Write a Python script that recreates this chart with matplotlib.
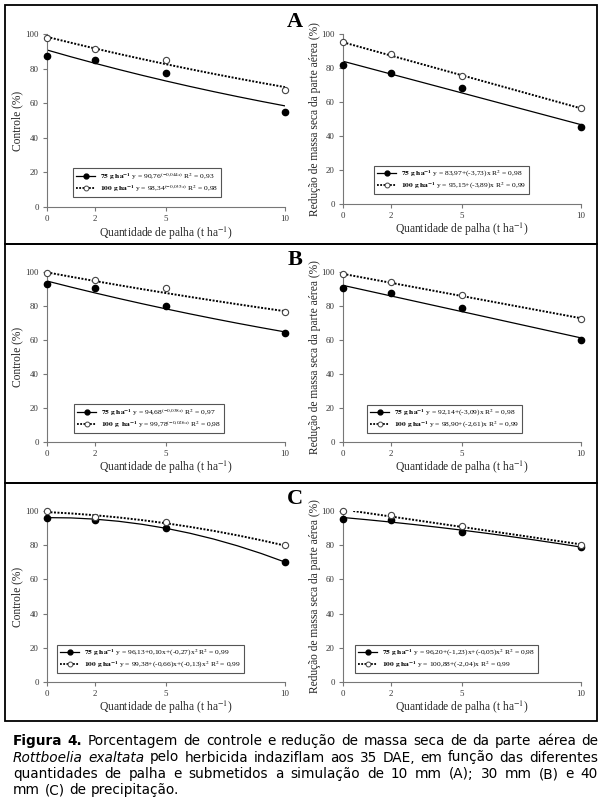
import matplotlib
matplotlib.use('Agg')
import matplotlib.pyplot as plt
from matplotlib.lines import Line2D
from matplotlib.patches import Rectangle

plt.rcParams['font.family'] = ['Liberation Serif', 'DejaVu Serif']
plt.rcParams['mathtext.fontset'] = 'stix'

W, H = 608, 801

# palha (t/ha) where the observations were made
x_palha = [0, 2, 5, 10]
x_fit = [0, 1, 2, 3, 4, 5, 6, 7, 8, 9, 10]
x_lin = [0, 10]

# A - 10 mm
a_ctrl_75 = [87.4, 85.1, 77.6, 55.2]
a_ctrl_100 = [97.5, 91.1, 85.1, 67.8]
a_ctrl_75_fit = [90.76, 86.85, 83.12, 79.54, 76.11, 72.84, 69.70, 66.70, 63.83, 61.08, 58.45]
a_ctrl_100_fit = [98.34, 94.96, 91.69, 88.54, 85.50, 82.55, 79.71, 76.97, 74.33, 71.77, 69.30]
a_mass_75 = [81.8, 77.3, 68.4, 45.3]
a_mass_100 = [95.1, 88.2, 75.3, 56.7]
a_mass_75_fit = [83.97, 46.67]
a_mass_100_fit = [95.15, 56.25]

# B - 30 mm
b_ctrl_75 = [93.1, 90.4, 80.2, 63.9]
b_ctrl_100 = [99.4, 95.3, 90.4, 76.7]
b_ctrl_75_fit = [94.68, 91.15, 87.75, 84.48, 81.33, 78.30, 75.38, 72.57, 69.86, 67.26, 64.75]
b_ctrl_100_fit = [99.78, 97.22, 94.73, 92.29, 89.92, 87.62, 85.37, 83.18, 81.04, 78.96, 76.94]
b_mass_75 = [90.4, 87.6, 78.6, 60.2]
b_mass_100 = [99.0, 93.9, 86.7, 72.5]
b_mass_75_fit = [92.14, 61.24]
b_mass_100_fit = [98.90, 72.80]

# C - 40 mm
c_ctrl_75 = [96.1, 94.5, 90.1, 70.2]
c_ctrl_100 = [99.8, 96.5, 93.6, 80.1]
c_ctrl_75_fit = [96.13, 95.96, 95.25, 94.00, 92.21, 89.88, 87.01, 83.60, 79.65, 75.16, 70.13]
c_ctrl_100_fit = [99.38, 98.59, 97.54, 96.23, 94.66, 92.83, 90.74, 88.39, 85.78, 82.91, 79.78]
c_mass_75 = [95.5, 94.5, 87.7, 78.8]
c_mass_100 = [99.8, 97.5, 91.0, 79.9]
c_mass_75_fit = [96.20, 94.92, 93.54, 92.06, 90.48, 88.80, 87.02, 85.14, 83.16, 81.08, 78.90]
c_mass_100_x = [0.43, 10]
c_mass_100_fit = [100.0, 80.48]

lab75 = r'$\mathbf{75\ g\ ha^{-1}}$ '
lab100 = r'$\mathbf{100\ g\ ha^{-1}}$ '
a_ctrl_leg = [lab75 + 'y = 90,76$^{(-0{,}044x)}$ R$^{2}$ = 0,93',
              lab100 + 'y = 98,34$^{(-0{,}035x)}$ R$^{2}$ = 0,98']
a_mass_leg = [lab75 + 'y = 83,97+(-3,73)x R$^{2}$ = 0,98',
              lab100 + 'y = 95,15+(-3,89)x R$^{2}$ = 0,99']
b_ctrl_leg = [lab75 + 'y = 94,68$^{(-0{,}038x)}$ R$^{2}$ = 0,97',
              r'$\mathbf{100\ g\ \ ha^{-1}}$ ' + 'y = 99,78$^{(-0{,}026x)}$ R$^{2}$ = 0,98']
b_mass_leg = [lab75 + 'y = 92,14+(-3,09)x R$^{2}$ = 0,98',
              lab100 + 'y = 98,90+(-2,61)x R$^{2}$ = 0,99']
c_ctrl_leg = [lab75 + 'y = 96,13+0,10x+(-0,27)x$^{2}$ R$^{2}$ = 0,99',
              lab100 + 'y = 99,38+(-0,66)x+(-0,13)x$^{2}$ R$^{2}$ = 0,99']
c_mass_leg = [lab75 + 'y = 96,20+(-1,23)x+(-0,05)x$^{2}$ R$^{2}$ = 0,98',
              lab100 + 'y = 100,88+(-2,04)x R$^{2}$ = 0,99']

ylab_ctrl = 'Controle (%)'
ylab_mass = 'Redução de massa seca da parte aérea (%)'
xlab = 'Quantidade de palha (t ha$^{-1}$)'

caption = [
    'Figura 4. Porcentagem de controle e redução de massa seca de da parte aérea de',
    'Rottboelia exaltata pelo herbicida indaziflam aos 35 DAE, em função das diferentes',
    'quantidades de palha e submetidos a simulação de 10 mm (A); 30 mm (B) e 40',
    'mm (C) de precipitação.',
]
bold_words = ['Figura', '4.']
italic_words = ['Rottboelia', 'exaltata']

fig = plt.figure(figsize=(W / 100, H / 100), dpi=100)


def px_axes(x0, x1, ytop, ybot):
    return fig.add_axes([x0 / W, 1 - ybot / H, (x1 - x0) / W, (ybot - ytop) / H])


def draw_panel(ax, p75, p100, fx75, f75, fx100, f100, labels, ylabel, leg_pos, ylab_x):
    ax.plot(fx75, f75, color='black', lw=0.9, zorder=2)
    ax.plot(fx100, f100, color='black', lw=1.4, ls=(0, (1, 0.8)), zorder=2)
    ax.plot(x_palha, p75, ls='none', marker='o', ms=4.5, color='black',
            clip_on=False, zorder=4)
    ax.plot(x_palha, p100, ls='none', marker='o', ms=4.5, mfc='white',
            mec='#444444', mew=0.8, clip_on=False, zorder=4)
    ax.set_xlim(0, 10)
    ax.set_ylim(0, 100)
    ax.set_xticks(x_palha)
    ax.set_yticks([0, 20, 40, 60, 80, 100])
    for s in ['top', 'right']:
        ax.spines[s].set_visible(False)
    for s in ['left', 'bottom']:
        ax.spines[s].set_color('#777777')
        ax.spines[s].set_linewidth(0.8)
    ax.tick_params(direction='out', length=3, width=0.8, color='#777777',
                   labelsize=6.3, labelcolor='#333333', pad=3)
    ax.set_ylabel(ylabel, fontsize=8.3, color='#222222')
    ax.yaxis.label.set_va('center')
    ax.yaxis.set_label_coords(ylab_x, 0.5)
    ax.set_xlabel(xlab, fontsize=8.3, color='#222222')
    ax.xaxis.label.set_va('center')
    ax.xaxis.set_label_coords(0.5, -26 / 172)
    handles = [
        Line2D([], [], color='black', lw=0.9, marker='o', ms=3.5),
        Line2D([], [], color='black', lw=1.3, ls=(0, (1, 0.8)), marker='o', ms=3.5,
               mfc='white', mec='#444444', mew=0.7),
    ]
    leg = ax.legend(handles, labels, loc='lower left', bbox_to_anchor=leg_pos,
                    fontsize=5.4, fancybox=False, edgecolor='#555555', framealpha=1,
                    borderpad=0.4, labelspacing=0.2, handlelength=2.6,
                    handletextpad=0.6, borderaxespad=0, numpoints=1)
    leg.get_frame().set_linewidth(0.8)


rows = [
    (34, 207, 204, 'A',
     (a_ctrl_75, a_ctrl_100, x_fit, a_ctrl_75_fit, x_fit, a_ctrl_100_fit, a_ctrl_leg, (0.109, 0.058)),
     (a_mass_75, a_mass_100, x_lin, a_mass_75_fit, x_lin, a_mass_100_fit, a_mass_leg, (0.13, 0.059))),
    (272, 442, 442, 'B',
     (b_ctrl_75, b_ctrl_100, x_fit, b_ctrl_75_fit, x_fit, b_ctrl_100_fit, b_ctrl_leg, (0.113, 0.053)),
     (b_mass_75, b_mass_100, x_lin, b_mass_75_fit, x_lin, b_mass_100_fit, b_mass_leg, (0.10, 0.053))),
    (511, 682, 682, 'C',
     (c_ctrl_75, c_ctrl_100, x_fit, c_ctrl_75_fit, x_fit, c_ctrl_100_fit, c_ctrl_leg, (0.042, 0.053)),
     (c_mass_75, c_mass_100, x_fit, c_mass_75_fit, c_mass_100_x, c_mass_100_fit, c_mass_leg, (0.05, 0.053))),
]

for ytop, ybot_l, ybot_r, letter, left, right in rows:
    axl = px_axes(47, 285, ytop, ybot_l)
    draw_panel(axl, *left[:7], ylab_ctrl, left[7], -30 / 238)
    axr = px_axes(343, 581, ytop, ybot_r)
    draw_panel(axr, *right[:7], ylab_mass, right[7], -28 / 238)
    fig.text(295 / W, 1 - (ytop - 12) / H, letter, fontsize=16, fontweight='bold',
             ha='center', va='center')

# frames around each row
for y0, y1 in [(5, 244), (244, 483), (483, 721)]:
    fig.add_artist(Rectangle((5 / W, 1 - y1 / H), 592 / W, (y1 - y0) / H,
                             transform=fig.transFigure, fill=False, lw=1.3,
                             ec='black'))

# caption, justified like the page
cap_x0, cap_x1 = 13, 598
baselines = [745, 761.5, 778, 794]
renderer = fig.canvas.get_renderer()
for i, line in enumerate(caption):
    words = line.split(' ')
    texts = []
    for w in words:
        weight = 'bold' if w in bold_words else 'normal'
        style = 'italic' if w in italic_words else 'normal'
        t = fig.text(0, 1 - baselines[i] / H, w, fontsize=9.8, family='DejaVu Sans',
                     fontweight=weight, fontstyle=style, va='baseline', ha='left',
                     color='black')
        texts.append(t)
    widths = [t.get_window_extent(renderer).width for t in texts]
    if i < len(caption) - 1:
        gap = (cap_x1 - cap_x0 - sum(widths)) / (len(words) - 1)
    else:
        gap = 4.5
    x = cap_x0
    for t, wd in zip(texts, widths):
        t.set_x(x / W)
        x += wd + gap

fig.savefig('out.png', dpi=100)
